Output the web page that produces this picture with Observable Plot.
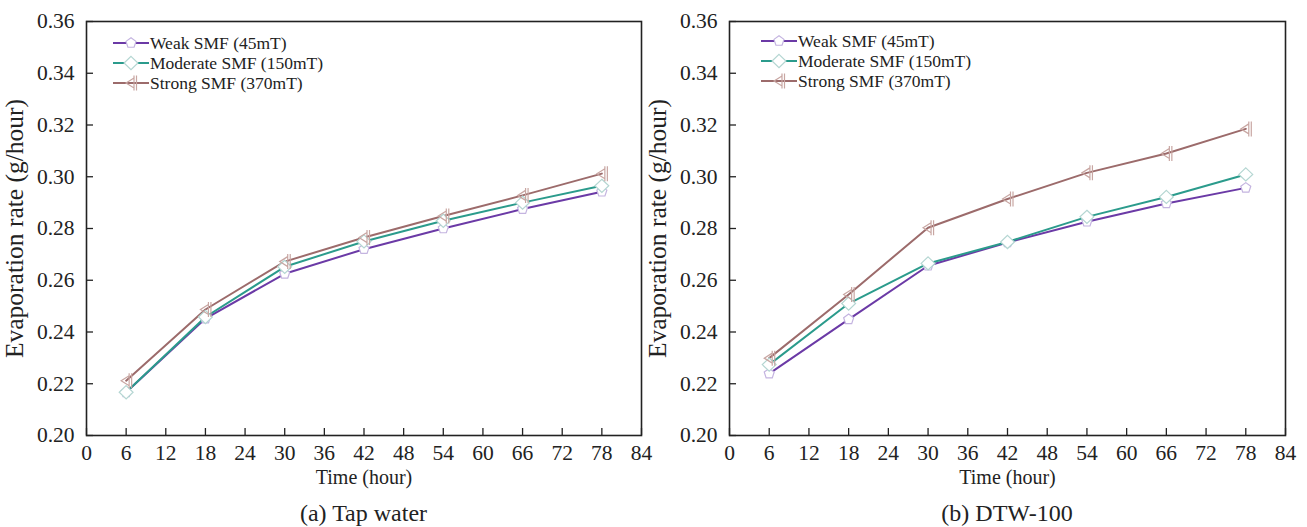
<!DOCTYPE html>
<html><head><meta charset="utf-8">
<script src="https://cdn.jsdelivr.net/npm/d3@7"></script>
<script src="https://cdn.jsdelivr.net/npm/@observablehq/plot@0.6"></script>
<style>
body{margin:0;background:#fff;}
#root{position:relative;width:1307px;height:527px;overflow:hidden;background:#fff;font-family:"Liberation Serif","Times New Roman",serif;color:#222;}
.panel{position:absolute;top:0;}
.caption{position:absolute;font-size:24px;text-align:center;white-space:nowrap;}
.legend{position:absolute;font-size:17.5px;line-height:20px;white-space:nowrap;}
.legend .row{display:flex;align-items:center;height:20px;}
.legend svg{display:block;margin-right:1px;}
</style></head><body><div id="root"></div>
<script>
// ---- data ----
const hours = [6, 18, 30, 42, 54, 66, 78];
const xTicks = [0, 6, 12, 18, 24, 30, 36, 42, 48, 54, 60, 66, 72, 78, 84];
const yTicks = [0.20, 0.22, 0.24, 0.26, 0.28, 0.30, 0.32, 0.34, 0.36];
const seriesNames = ["Weak SMF (45mT)", "Moderate SMF (150mT)", "Strong SMF (370mT)"];
const lineColors = ["#6b3aa6", "#2b9b8c", "#9c6b6b"];
const markerStrokes = ["#c4b4e0", "#b4d6d2", "#c8a6a2"];

const tapWeak     = [0.2167, 0.2452, 0.2625, 0.2720, 0.2800, 0.2875, 0.2942];
const tapModerate = [0.2167, 0.2458, 0.2652, 0.2750, 0.2830, 0.2900, 0.2965];
const tapStrong   = [0.2212, 0.2487, 0.2672, 0.2765, 0.2848, 0.2928, 0.3012];

const dtwWeak     = [0.2239, 0.2449, 0.2656, 0.2746, 0.2826, 0.2897, 0.2957];
const dtwModerate = [0.2274, 0.2510, 0.2665, 0.2748, 0.2845, 0.2922, 0.3009];
const dtwStrong   = [0.2299, 0.2545, 0.2803, 0.2914, 0.3015, 0.3090, 0.3185];

const captions = ["(a) Tap water", "(b) DTW-100"];
const xTitle = "Time (hour)";
const yTitle = "Evaporation rate (g/hour)";

// ---- symbols ----
const pentagon = {draw(ctx, size) {
  const r = Math.sqrt(size / Math.PI) * 1.05;
  for (let i = 0; i < 5; i++) {
    const a = -Math.PI / 2 + i * 2 * Math.PI / 5;
    const px = r * Math.cos(a), py = r * Math.sin(a);
    if (i === 0) ctx.moveTo(px, py); else ctx.lineTo(px, py);
  }
  ctx.closePath();
}};
const diamondWide = {draw(ctx, size) {
  const r = Math.sqrt(size / Math.PI) * 1.2;
  ctx.moveTo(0, -r); ctx.lineTo(r * 1.05, 0); ctx.lineTo(0, r); ctx.lineTo(-r * 1.05, 0); ctx.closePath();
}};
const triBar = {draw(ctx, size) {
  const r = Math.sqrt(size / Math.PI);
  ctx.moveTo(r * 0.6, -r); ctx.lineTo(-r, 0); ctx.lineTo(r * 0.6, r); ctx.closePath();
  ctx.moveTo(r * 0.6, -r * 1.5); ctx.lineTo(r * 0.6, r * 1.5);
  ctx.moveTo(r * 1.1, -r * 1.5); ctx.lineTo(r * 1.1, r * 1.5);
}};
const symbols = [pentagon, diamondWide, triBar];
const markerR = [5, 5.5, 5];

const panels = [
  {values: [tapWeak, tapModerate, tapStrong], left: 0, width: 660, marginLeft: 86, marginRight: 19, legendLeft: 113, legendTop: 33},
  {values: [dtwWeak, dtwModerate, dtwStrong], left: 660, width: 647, marginLeft: 69, marginRight: 22, legendLeft: 761, legendTop: 31}
];

const H = 527, MT = 21, MB = 92;
const root = document.getElementById("root");

panels.forEach((p, pi) => {
  const rows = [];
  seriesNames.forEach((s, k) => hours.forEach((h, i) => rows.push({series: s, k, hour: h, rate: p.values[k][i]})));
  const plotW = p.width - p.marginLeft - p.marginRight;
  const plotH = H - MT - MB;
  const chart = Plot.plot({
    width: p.width, height: H,
    marginLeft: p.marginLeft, marginRight: p.marginRight, marginTop: MT, marginBottom: MB,
    style: {fontFamily: '"Liberation Serif","Times New Roman",serif', fontSize: "21px", color: "#222", background: "white", overflow: "visible"},
    x: {domain: [0, 84]},
    y: {domain: [0.20, 0.36]},
    color: {domain: seriesNames, range: lineColors},
    marks: [
      Plot.axisX({ticks: xTicks, tickSize: 0, tickPadding: 9, label: null, fontSize: 21.5}),
      Plot.axisX({ticks: [], tickSize: 0, label: xTitle, labelAnchor: "center", labelArrow: "none", labelOffset: 48, fontSize: 20}),
      Plot.tickX(xTicks, {x: d => d, stroke: "#222", strokeWidth: 1.3, insetTop: plotH - 7}),
      Plot.axisY({ticks: yTicks, tickSize: 0, tickPadding: 12, tickFormat: d3.format(".2f"), label: null, fontSize: 21.5}),
      Plot.axisY({ticks: [], tickSize: 0, label: yTitle, labelAnchor: "center", labelArrow: "none", labelOffset: 82, fontSize: 25.5}),
      Plot.tickY(yTicks, {y: d => d, stroke: "#222", strokeWidth: 1.3, insetRight: plotW - 7}),
      Plot.line(rows, {x: "hour", y: "rate", z: "series", stroke: "series", strokeWidth: 2}),
      ...seriesNames.map((s, k) => Plot.dot(rows.filter(d => d.k === k), {x: "hour", y: "rate", symbol: symbols[k], r: markerR[k], fill: k === 2 ? "none" : "white", stroke: markerStrokes[k], strokeWidth: 1.2})),
      Plot.frame({stroke: "#222", strokeWidth: 1.6})
    ]
  });
  chart.classList.add("panel");
  chart.style.left = p.left + "px";
  root.appendChild(chart);

  // caption
  const cap = document.createElement("div");
  cap.className = "caption";
  cap.textContent = captions[pi];
  cap.style.left = (p.left + p.marginLeft) + "px";
  cap.style.width = plotW + "px";
  cap.style.top = "500px";
  root.appendChild(cap);

  // legend
  const lg = document.createElement("div");
  lg.className = "legend";
  lg.style.left = p.legendLeft + "px";
  lg.style.top = p.legendTop + "px";
  seriesNames.forEach((s, k) => {
    const row = document.createElement("div");
    row.className = "row";
    const sw = d3.create("svg").attr("width", 36).attr("height", 20);
    sw.append("line").attr("x1", 0).attr("x2", 36).attr("y1", 10).attr("y2", 10).attr("stroke", lineColors[k]).attr("stroke-width", 2);
    sw.append("path").attr("transform", "translate(18,10)")
      .attr("d", d3.symbol().type(symbols[k]).size(Math.PI * markerR[k] * markerR[k])())
      .attr("fill", k === 2 ? "none" : "white").attr("stroke", markerStrokes[k]).attr("stroke-width", 1.2);
    row.appendChild(sw.node());
    const t = document.createElement("span");
    t.textContent = s;
    row.appendChild(t);
    lg.appendChild(row);
  });
  root.appendChild(lg);
});
</script></body></html>
